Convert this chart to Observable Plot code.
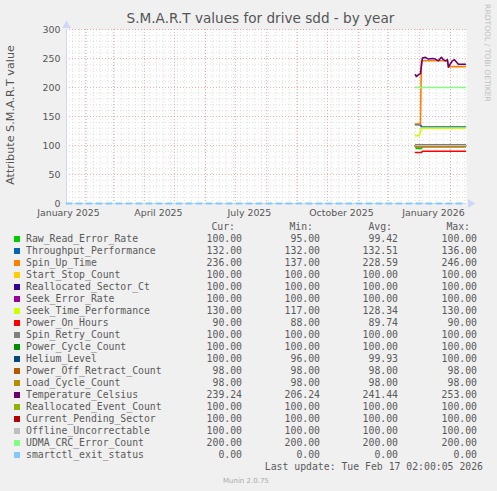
<!DOCTYPE html>
<html><head><meta charset="utf-8">
<script src="https://cdn.jsdelivr.net/npm/d3@7"></script>
<script src="https://cdn.jsdelivr.net/npm/@observablehq/plot@0.6"></script>
<style>
html,body{margin:0;padding:0;background:#F0F0F0;}
#wrap{position:relative;width:497px;height:491px;overflow:hidden;font-family:"DejaVu Sans",sans-serif;color:#555;}
#chart{position:absolute;left:0;top:0;}
.abs{position:absolute;white-space:pre;}
.mono{font-family:"DejaVu Sans Mono",monospace;font-size:9.8px;line-height:12px;height:12px;color:#5a5a5a;}
.r{text-align:right;}
</style></head>
<body><div id="wrap"><div id="chart"></div></div>
<script>
// ---- data ----
const names = ["Raw_Read_Error_Rate","Throughput_Performance","Spin_Up_Time","Start_Stop_Count","Reallocated_Sector_Ct","Seek_Error_Rate","Seek_Time_Performance","Power_On_Hours","Spin_Retry_Count","Power_Cycle_Count","Helium_Level","Power_Off_Retract_Count","Load_Cycle_Count","Temperature_Celsius","Reallocated_Event_Count","Current_Pending_Sector","Offline_Uncorrectable","UDMA_CRC_Error_Count","smartctl_exit_status"];
const colors = ["#00CC00","#0066B3","#FF8000","#FFCC00","#330099","#990099","#CCFF00","#FF0000","#808080","#008F00","#00487D","#B35A00","#B38F00","#6B006B","#8FB300","#B30000","#BEBEBE","#80FF80","#80C9FF"];
const curVals = [100,132,236,100,100,100,130,90,100,100,100,98,98,239.24,100,100,100,200,0];
const minVals = [95,132,137,100,100,100,117,88,100,100,96,98,98,206.24,100,100,100,200,0];
const avgVals = [99.42,132.51,228.59,100,100,100,128.34,89.74,100,100,99.93,98,98,241.44,100,100,100,200,0];
const maxVals = [100,136,246,100,100,100,130,90,100,100,100,98,98,253,100,100,100,200,0];

const rawReadErrorRate = [["2025-12-28",100],["2025-12-29",95],["2026-01-03",95],["2026-01-04",100],["2026-02-16",100]];
const throughputPerformance = [["2025-12-28",136],["2026-01-02",136],["2026-01-03",132],["2026-02-16",132]];
const spinUpTime = [["2025-12-28",137],["2026-01-02",137],["2026-01-03",246],["2026-01-29",246],["2026-01-30",236],["2026-02-16",236]];
const startStopCount = [["2025-12-28",100],["2026-02-16",100]];
const reallocatedSectorCt = [["2025-12-28",100],["2026-02-16",100]];
const seekErrorRate = [["2025-12-28",100],["2026-02-16",100]];
const seekTimePerformance = [["2025-12-28",117],["2026-01-01",117],["2026-01-03",130],["2026-02-16",130]];
const powerOnHours = [["2025-12-28",88],["2026-01-03",88],["2026-01-04",90],["2026-02-16",90]];
const spinRetryCount = [["2025-12-28",100],["2026-02-16",100]];
const powerCycleCount = [["2025-12-28",100],["2026-02-16",100]];
const heliumLevel = [["2025-12-28",100],["2026-02-16",100]];
const powerOffRetractCount = [["2025-12-28",98],["2026-02-16",98]];
const loadCycleCount = [["2025-12-28",98],["2026-02-16",98]];
const temperatureCelsius = [["2025-12-28",222],["2025-12-29",219],["2026-01-01",223],["2026-01-02",224],["2026-01-04",251],["2026-01-07",252],["2026-01-10",249],["2026-01-14",250],["2026-01-17",249],["2026-01-20",246],["2026-01-23",252],["2026-01-25",248],["2026-01-27",246],["2026-01-29",248],["2026-01-30",235],["2026-02-01",241],["2026-02-03",246],["2026-02-05",248],["2026-02-07",244],["2026-02-09",240],["2026-02-16",240]];
const reallocatedEventCount = [["2025-12-28",100],["2026-02-16",100]];
const currentPendingSector = [["2025-12-28",100],["2026-02-16",100]];
const offlineUncorrectable = [["2025-12-28",100],["2026-02-16",100]];
const udmaCrcErrorCount = [["2025-12-28",200],["2026-02-16",200]];
const smartctlExitStatus = [["2025-01-13",0],["2026-02-17",0]];

const seriesData = [rawReadErrorRate,throughputPerformance,spinUpTime,startStopCount,reallocatedSectorCt,seekErrorRate,seekTimePerformance,powerOnHours,spinRetryCount,powerCycleCount,heliumLevel,powerOffRetractCount,loadCycleCount,temperatureCelsius,reallocatedEventCount,currentPendingSector,offlineUncorrectable,udmaCrcErrorCount,smartctlExitStatus];

const yTicks = [0,50,100,150,200,250,300];
const xTickDates = ["2025-01-15","2025-04-15","2025-07-15","2025-10-15","2026-01-15"];
const xStart = "2025-01-13T02:00Z", xEnd = "2026-02-17T02:00Z";
const title = "S.M.A.R.T values for drive sdd - by year";
const yLabel = "Attribute S.M.A.R.T value";
const lastUpdate = "Last update: Tue Feb 17 02:00:05 2026";
const sideText = "RRDTOOL / TOBI OETIKER";
const footer = "Munin 2.0.75";
const headers = ["Cur:","Min:","Avg:","Max:"];

// ---- chart ----
const x0 = new Date(xStart), x1 = new Date(xEnd);
const parse = s => new Date(s + "T00:00Z");
const tables = seriesData.map(arr => arr.map(([d, v]) => ({date: parse(d), value: v})));
const minorY = d3.range(10, 300, 10).filter(v => v % 50 !== 0);
const majorY = yTicks.filter(v => v > 0);
const months = d3.utcMonth.range(x0, x1);
const weeks = d3.utcSunday.range(x0, x1);
const axisColor = "#CFD6F8";

const lineMarks = tables.map((t, i) => Plot.line(t, {
  x: "date", y: "value", stroke: colors[i],
  strokeWidth: i === 18 ? 2 : 1.6,
  strokeDasharray: i === 18 ? "5,5" : null
}));

const chart = Plot.plot({
  width: 497, height: 222,
  marginLeft: 66, marginRight: 31, marginTop: 29, marginBottom: 19,
  style: {background: "transparent", fontFamily: "DejaVu Sans", fontSize: "9.4px", color: "#555", overflow: "visible"},
  x: {type: "utc", domain: [x0, x1]},
  y: {domain: [0, 300]},
  marks: [
    Plot.frame({fill: "white", stroke: null}),
    Plot.ruleY(minorY, {stroke: "#B0B0B0", strokeOpacity: 0.4, strokeDasharray: "1,2"}),
    Plot.ruleX(weeks, {stroke: "#B0B0B0", strokeOpacity: 0.38, strokeDasharray: "1,2"}),
    Plot.ruleY(majorY, {stroke: "#E06060", strokeOpacity: 0.5, strokeDasharray: "1,2"}),
    Plot.ruleX(months, {stroke: "#E06060", strokeOpacity: 0.5, strokeDasharray: "1,2"}),
    Plot.ruleY([0], {stroke: axisColor}),
    Plot.ruleX([x0], {stroke: axisColor}),
    Plot.dot([x1], {x: d => d, y: () => 0, symbol: "triangle", r: 3.2, fill: axisColor, stroke: null, rotate: 90, dx: 4}),
    Plot.dot([x0], {x: d => d, y: () => 300, symbol: "triangle", r: 3.2, fill: axisColor, stroke: null, dy: -4}),
    ...lineMarks,
    Plot.axisY({ticks: yTicks, tickSize: 0, tickPadding: 6, label: null}),
    Plot.axisX({ticks: xTickDates.map(parse), tickFormat: d3.utcFormat("%B %Y"), tickSize: 0, tickPadding: 6, label: null})
  ]
});
document.getElementById("chart").appendChild(chart);

// ---- text & legend ----
const wrap = document.getElementById("wrap");
function add(html, css, cls) {
  const d = document.createElement("div");
  d.className = "abs " + (cls || "");
  d.textContent = html;
  Object.assign(d.style, css);
  wrap.appendChild(d);
  return d;
}
add(title, {left: "0px", width: "521px", top: "10px", textAlign: "center", fontSize: "13.6px", color: "#555"});
add(yLabel, {left: "10px", top: "115px", fontSize: "11.2px", transform: "translate(-50%,-50%) rotate(-90deg)", color: "#555"});
add(sideText, {left: "487px", top: "53px", fontSize: "7.6px", transform: "translate(-50%,-50%) rotate(90deg)", color: "#C0C0C0"});

const colRight = [242, 320, 398, 477];
const headRight = [235, 313, 392, 470];
headers.forEach((h, j) => add(h, {left: (headRight[j] - 100) + "px", width: "100px", top: (227 - 6) + "px"}, "mono r"));
const fmt = d3.format(".2f");
names.forEach((n, i) => {
  const cy = 239 + 12 * i;
  const sq = document.createElement("div");
  Object.assign(sq.style, {position: "absolute", left: "14px", top: (cy - 3) + "px", width: "6px", height: "6px", background: colors[i]});
  wrap.appendChild(sq);
  add(n, {left: "26px", top: (cy - 6) + "px"}, "mono");
  [curVals[i], minVals[i], avgVals[i], maxVals[i]].forEach((v, j) =>
    add(fmt(v), {left: (colRight[j] - 100) + "px", width: "100px", top: (cy - 6) + "px"}, "mono r"));
});
add(lastUpdate, {left: "183px", width: "300px", top: (467 - 6) + "px"}, "mono r");
add(footer, {left: "223px", top: "477px", fontSize: "7px", color: "#AAAAAA"});
</script>
</body></html>
